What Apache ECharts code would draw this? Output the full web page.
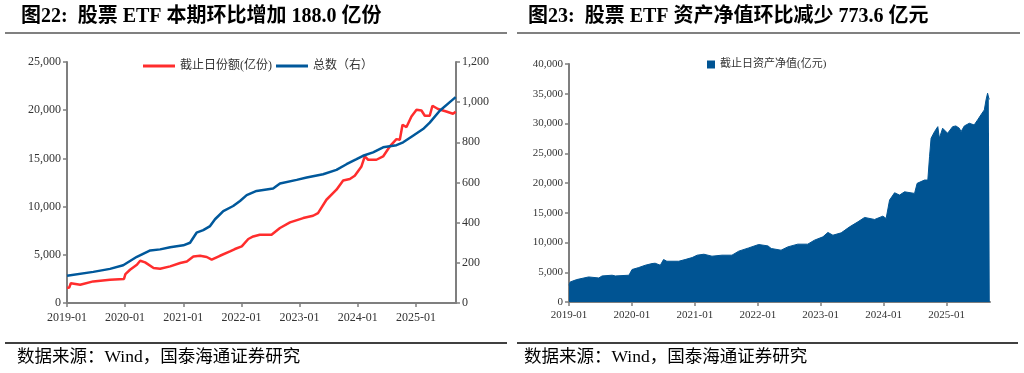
<!DOCTYPE html>
<html>
<head>
<meta charset="utf-8">
<script src="https://cdn.jsdelivr.net/npm/echarts@6/dist/echarts.min.js"></script>
<style>
html,body{margin:0;padding:0;background:#fff;}
#c{width:1024px;height:373px;}
</style>
</head>
<body>
<div id="c"></div>
<script>
// ---------- DATA ----------
const leftTitle = '图22:  股票 ETF 本期环比增加 188.0 亿份';
const rightTitle = '图23:  股票 ETF 资产净值环比减少 773.6 亿元';
const sourceText = '数据来源：Wind，国泰海通证券研究';
const shareName = '截止日份额(亿份)';
const countName = '总数（右）';
const navName = '截止日资产净值(亿元)';

// 截止日份额 (left axis)
const shareDates = ['2019-01-01','2019-01-15','2019-01-25','2019-03-25','2019-06-15','2019-09-28','2019-12-25','2020-01-03','2020-02-01','2020-03-15','2020-04-05','2020-05-06','2020-06-28','2020-08-08','2020-10-10','2020-12-12','2021-01-23','2021-03-05','2021-04-16','2021-05-28','2021-06-28','2021-08-19','2021-10-21','2021-11-21','2022-01-03','2022-02-13','2022-03-16','2022-04-26','2022-05-08','2022-07-09','2022-08-31','2022-11-02','2023-01-24','2023-03-27','2023-04-27','2023-06-19','2023-08-21','2023-10-02','2023-11-13','2023-12-14','2024-01-25','2024-02-15','2024-03-07','2024-04-28','2024-06-09','2024-07-21','2024-09-01','2024-09-22','2024-10-09','2024-11-03','2024-12-04','2025-01-05','2025-02-05','2025-02-26','2025-03-29','2025-04-15','2025-05-20','2025-07-11','2025-08-22','2025-09-08'];
const shareValues = [1550,1600,2050,1900,2240,2410,2500,3000,3450,3970,4380,4210,3630,3560,3800,4150,4310,4830,4900,4770,4490,4900,5350,5600,5870,6640,6900,7080,7260,7080,7780,8360,8810,9050,9330,10710,11750,12710,12860,13200,14170,15200,14860,14860,15200,16240,17000,16930,18490,18250,19350,20040,19970,19420,19420,20460,20120,19870,19630,19850];

// 总数 (right axis)
const countDates = ['2019-01-01','2019-06-15','2019-09-28','2019-12-20','2020-03-15','2020-06-07','2020-08-08','2020-10-10','2021-01-01','2021-02-12','2021-03-25','2021-05-06','2021-06-18','2021-07-19','2021-09-09','2021-11-10','2021-12-23','2022-02-03','2022-04-06','2022-07-19','2022-08-31','2022-12-14','2023-02-15','2023-05-29','2023-08-21','2023-10-23','2023-12-25','2024-02-04','2024-04-07','2024-06-09','2024-09-01','2024-10-13','2024-12-14','2025-02-15','2025-03-29','2025-05-31','2025-08-02','2025-09-08'];
const countValues = [136,155,170,188,230,262,267,278,287,300,350,363,383,417,458,483,508,537,558,570,595,613,625,641,663,691,716,733,750,775,786,800,833,866,898,957,1000,1025];

// 截止日资产净值
const navDates = ['2019-01-01','2019-01-08','2019-02-15','2019-04-25','2019-06-23','2019-07-12','2019-09-08','2019-09-27','2019-12-15','2020-01-02','2020-02-10','2020-03-19','2020-04-27','2020-05-15','2020-06-14','2020-07-03','2020-07-22','2020-09-29','2020-11-05','2020-12-16','2021-01-14','2021-02-22','2021-04-10','2021-06-07','2021-08-04','2021-09-12','2021-11-09','2022-01-06','2022-03-01','2022-03-20','2022-05-16','2022-06-24','2022-08-21','2022-10-18','2022-11-26','2023-01-14','2023-02-12','2023-03-13','2023-04-30','2023-06-18','2023-08-05','2023-09-13','2023-11-10','2023-12-28','2024-01-16','2024-02-05','2024-03-05','2024-04-03','2024-05-02','2024-06-29','2024-07-14','2024-08-26','2024-09-14','2024-09-24','2024-10-03','2024-10-23','2024-11-11','2024-11-20','2024-12-09','2025-01-07','2025-02-05','2025-02-24','2025-03-16','2025-03-26','2025-04-14','2025-05-13','2025-06-10','2025-06-30','2025-07-19','2025-08-08','2025-08-18','2025-08-27','2025-09-03','2025-09-09'];
const navValues = [2810,3370,3770,4210,4040,4380,4500,4380,4500,5460,5790,6180,6460,6520,6180,7140,6850,6850,7130,7470,7870,8030,7700,7870,7870,8540,9090,9660,9430,8990,8710,9260,9720,9720,10390,10950,11690,11230,11620,12630,13470,14210,13870,14430,14040,17130,18360,17970,18520,18250,19940,20500,20490,24420,27520,28630,29470,27520,29200,28360,29470,29590,29200,28630,29590,30040,29760,30600,31440,32280,33970,35090,34250,34080];

const leftTicks = {min:0, max:25000, interval:5000};
const rightTicks = {min:0, max:1200, interval:200};
const navTicks = {min:0, max:40000, interval:5000};
const xMin = '2019-01-01';
const xMax = '2025-09-10';

// ---------- CHART ----------
const pair = (d, v) => d.map((x, i) => [x, v[i]]);
const serif = "'Liberation Serif','Noto Sans CJK SC',serif";
const YEAR = 365 * 24 * 3600 * 1000;
const fmtNum = v => v.toLocaleString('en-US');
const axisGray = '#7f7f7f';
const labelColor = '#333';

function xAxis(gridIndex, fs, margin) {
  return {
    type: 'time', gridIndex, min: xMin, max: xMax,
    minInterval: YEAR, maxInterval: YEAR + 2 * 24 * 3600 * 1000,
    axisLine: {lineStyle: {color: axisGray, width: 2}},
    axisTick: {show: true, length: 4, lineStyle: {color: axisGray, width: 1.5}},
    axisLabel: {color: labelColor, fontFamily: serif, fontSize: fs, margin: margin,
      formatter: v => echarts.time.format(v, '{yyyy}-{MM}', false)},
    splitLine: {show: false}
  };
}
function yAxis(gridIndex, t, pos, fs) {
  return {
    type: 'value', gridIndex, position: pos, min: t.min, max: t.max, interval: t.interval,
    axisLine: {show: true, lineStyle: {color: axisGray, width: 2}},
    axisTick: {show: true, length: 4, lineStyle: {color: axisGray, width: 1.5}},
    axisLabel: {color: labelColor, fontFamily: serif, fontSize: fs, margin: 6, formatter: fmtNum},
    splitLine: {show: false}
  };
}

const chart = echarts.init(document.getElementById('c'), null, {renderer: 'canvas'});
chart.setOption({
  animation: false,
  backgroundColor: '#fff',
  title: [
    {text: leftTitle, left: 16, top: 2, textStyle: {fontFamily: serif, fontWeight: 'bold', fontSize: 20, color: '#000'}},
    {text: rightTitle, left: 523, top: 2, textStyle: {fontFamily: serif, fontWeight: 'bold', fontSize: 20, color: '#000'}}
  ],
  legend: [
    {data: [shareName, countName], left: 138, top: 55, icon: 'rect', itemWidth: 32, itemHeight: 3, itemGap: 4,
      textStyle: {fontFamily: serif, fontSize: 12, color: '#333'}},
    {data: [navName], left: 702, top: 54, icon: 'rect', itemWidth: 8, itemHeight: 8,
      textStyle: {fontFamily: serif, fontSize: 11, color: '#333'}}
  ],
  grid: [
    {left: 67, top: 62, width: 389, height: 241},
    {left: 569, top: 64, width: 421, height: 238}
  ],
  xAxis: [xAxis(0, 12, 9), xAxis(1, 11, 8)],
  yAxis: [yAxis(0, leftTicks, 'left', 12), yAxis(0, rightTicks, 'right', 12), yAxis(1, navTicks, 'left', 11)],
  series: [
    {name: shareName, type: 'line', xAxisIndex: 0, yAxisIndex: 0, data: pair(shareDates, shareValues),
      symbol: 'none', lineStyle: {color: '#FF2D2D', width: 2.5}, itemStyle: {color: '#FF2D2D'}},
    {name: countName, type: 'line', xAxisIndex: 0, yAxisIndex: 1, data: pair(countDates, countValues),
      symbol: 'none', lineStyle: {color: '#00589B', width: 2.5}, itemStyle: {color: '#00589B'}},
    {name: navName, type: 'line', xAxisIndex: 1, yAxisIndex: 2, data: pair(navDates, navValues),
      symbol: 'none', lineStyle: {color: '#005493', width: 1}, itemStyle: {color: '#005493'},
      areaStyle: {color: '#005493', opacity: 1}}
  ],
  graphic: [
    {type: 'line', shape: {x1: 5, y1: 33, x2: 507, y2: 33}, style: {stroke: '#808080', lineWidth: 2}},
    {type: 'line', shape: {x1: 517, y1: 33, x2: 1020, y2: 33}, style: {stroke: '#808080', lineWidth: 2}},
    {type: 'line', shape: {x1: 5, y1: 343, x2: 507, y2: 343}, style: {stroke: '#000', lineWidth: 1.5}},
    {type: 'line', shape: {x1: 517, y1: 343, x2: 1018, y2: 343}, style: {stroke: '#000', lineWidth: 1.5}},
    {type: 'text', left: 17, top: 349, style: {text: sourceText, font: "17.5px " + serif, fill: '#000'}},
    {type: 'text', left: 524, top: 349, style: {text: sourceText, font: "17.5px " + serif, fill: '#000'}}
  ]
});
</script>
</body>
</html>
